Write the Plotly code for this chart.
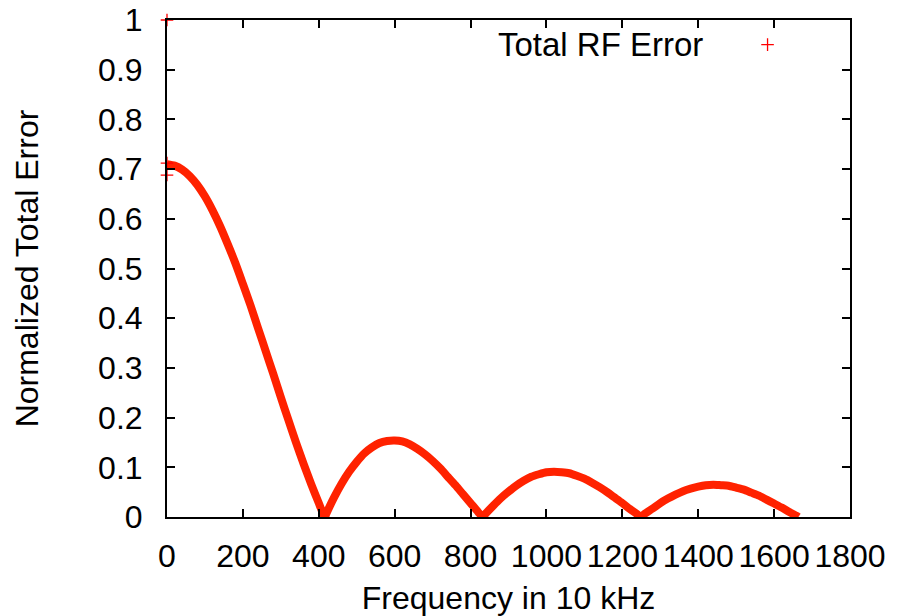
import plotly.graph_objects as go

# Frequency (in 10 kHz) and normalized total error
freq = [0, 20, 40, 60, 80, 100, 120, 140, 160, 180, 200, 220, 240, 260, 280, 300,
        320, 340, 360, 380, 400, 416, 420, 440, 460, 480, 500, 520, 540, 560, 580,
        600, 620, 640, 660, 680, 700, 720, 740, 760, 780, 800, 820, 832, 840, 860,
        880, 900, 920, 940, 960, 980, 1000, 1020, 1040, 1060, 1080, 1100, 1120,
        1140, 1160, 1180, 1200, 1220, 1240, 1248, 1260, 1280, 1300, 1320, 1340,
        1360, 1380, 1400, 1420, 1440, 1460, 1480, 1500, 1520, 1540, 1560, 1580,
        1600, 1620, 1640, 1660, 1664]
error = [0.710, 0.707, 0.699, 0.686, 0.668, 0.645, 0.617, 0.585, 0.549, 0.511,
         0.469, 0.426, 0.380, 0.334, 0.288, 0.241, 0.195, 0.150, 0.107, 0.066,
         0.028, 0.000, 0.007, 0.039, 0.067, 0.091, 0.111, 0.128, 0.140, 0.149,
         0.153, 0.154, 0.152, 0.146, 0.137, 0.126, 0.113, 0.098, 0.081, 0.064,
         0.046, 0.028, 0.010, 0.000, 0.007, 0.023, 0.038, 0.051, 0.063, 0.073,
         0.081, 0.086, 0.090, 0.091, 0.090, 0.088, 0.083, 0.077, 0.069, 0.060,
         0.050, 0.039, 0.028, 0.016, 0.005, 0.000, 0.007, 0.017, 0.028, 0.037,
         0.045, 0.052, 0.057, 0.061, 0.064, 0.065, 0.064, 0.063, 0.059, 0.055,
         0.049, 0.043, 0.035, 0.027, 0.019, 0.010, 0.002, 0.000]

# Isolated samples at zero frequency
extra_freq = [0, 0, 0]
extra_error = [1.0, 0.712, 0.688]

x_ticks = [0, 200, 400, 600, 800, 1000, 1200, 1400, 1600, 1800]
y_ticks = [0, 0.1, 0.2, 0.3, 0.4, 0.5, 0.6, 0.7, 0.8, 0.9, 1]
y_tick_labels = ["0", "0.1", "0.2", "0.3", "0.4", "0.5", "0.6", "0.7", "0.8", "0.9", "1"]

series_name = "Total RF Error"
line_color = "#ff2200"
marker_color = "#ff0000"
FONT = "Liberation Sans, Arial, Helvetica, sans-serif"
FS = 32

fig = go.Figure()
fig.add_trace(go.Scatter(
    x=freq, y=error, mode="lines",
    line=dict(color=line_color, width=8, simplify=False, shape="spline", smoothing=0.6),
    showlegend=False, hoverinfo="skip",
))
fig.add_trace(go.Scatter(
    x=extra_freq, y=extra_error, mode="markers", name="",
    marker=dict(symbol="cross-thin", size=9, color=marker_color,
                line=dict(color=marker_color, width=1.3)),
    cliponaxis=False, showlegend=True,
))

axis_common = dict(
    showgrid=False, zeroline=False, showline=True, linecolor="black", linewidth=2,
    mirror="ticks", ticks="inside", ticklen=8, tickwidth=2, tickcolor="black",
    tickfont=dict(family=FONT, size=FS, color="black"), automargin=False,
)

fig.update_xaxes(
    range=[0, 1800], tickvals=x_ticks, ticktext=[str(v) for v in x_ticks],
    ticklabelstandoff=10,
    title=dict(text="Frequency in 10 kHz", font=dict(family=FONT, size=FS, color="black"),
               standoff=18),
    **axis_common,
)
fig.update_yaxes(
    range=[0, 1], tickvals=y_ticks, ticktext=y_tick_labels,
    ticklabelstandoff=16,
    title=dict(text="Normalized Total Error", font=dict(family=FONT, size=FS, color="black"),
               standoff=50),
    **axis_common,
)

fig.add_annotation(
    xref="paper", yref="paper", x=0.634, y=0.950, text=series_name,
    showarrow=False, font=dict(family=FONT, size=33, color="black"),
    xanchor="center", yanchor="middle",
)

fig.update_layout(
    width=909, height=616,
    margin=dict(l=167, r=59, t=20, b=99, autoexpand=False),
    paper_bgcolor="white", plot_bgcolor="white",
    legend=dict(x=0.85, y=0.950, xanchor="left", yanchor="middle",
                bgcolor="rgba(0,0,0,0)", font=dict(family=FONT, size=FS)),
    font=dict(family=FONT, size=FS, color="black"),
)

fig.write_html("out.html")
